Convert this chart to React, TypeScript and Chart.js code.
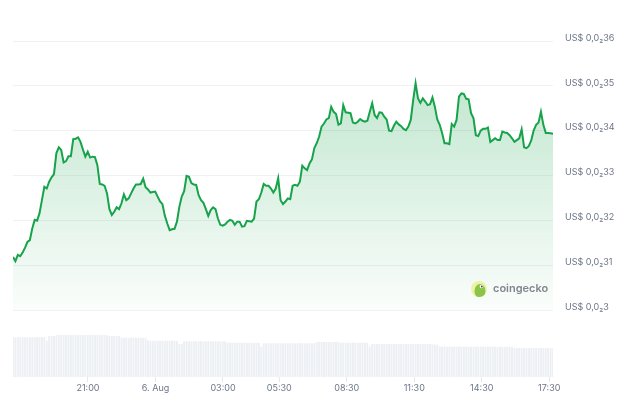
import React, { useEffect, useRef } from "react";
import { Chart, registerables } from "chart.js";

Chart.register(...registerables);

// Time window (hours since 5 Aug 00:00)
const START_HOUR = 17 + 40 / 60;
const END_HOUR = START_HOUR + 24;

const PRICES = [
  0.003118, 0.003109, 0.003123, 0.00312, 0.003128, 0.003139, 0.003152, 0.003156, 0.003182, 0.003201,
  0.003199, 0.003216, 0.003245, 0.003275, 0.003271, 0.003286, 0.003296, 0.003303, 0.00335, 0.003363,
  0.003357, 0.003329, 0.003332, 0.003343, 0.003343, 0.003381, 0.003382, 0.003385, 0.003375, 0.003358,
  0.003342, 0.003353, 0.00334, 0.003342, 0.003341, 0.003323, 0.003281, 0.00328, 0.003277, 0.00326,
  0.003225, 0.003212, 0.003219, 0.003229, 0.003225, 0.003238, 0.003258, 0.003245, 0.003249, 0.00326,
  0.003271, 0.00328, 0.00328, 0.003281, 0.003293, 0.003274, 0.003269, 0.003262, 0.003263, 0.003264,
  0.003253, 0.003242, 0.003236, 0.00321, 0.003193, 0.003178, 0.00318, 0.003181, 0.003197, 0.00323,
  0.003253, 0.003265, 0.003299, 0.003297, 0.003283, 0.00328, 0.003279, 0.003256, 0.003245, 0.003239,
  0.003225, 0.00321, 0.003223, 0.003229, 0.003225, 0.003204, 0.00319, 0.003188, 0.003191, 0.003197,
  0.003201, 0.003199, 0.00319, 0.003197, 0.003197, 0.003186, 0.003187, 0.003199, 0.003198, 0.003197,
  0.003204, 0.003242, 0.003247, 0.003262, 0.003281, 0.003277, 0.003277, 0.003271, 0.003262, 0.003271,
  0.003294, 0.003245, 0.003236, 0.003242, 0.003249, 0.003247, 0.003277, 0.003279, 0.003277, 0.003286,
  0.003322, 0.003316, 0.003312, 0.003327, 0.003336, 0.003361, 0.003372, 0.003387, 0.003409, 0.003416,
  0.003425, 0.003428, 0.003453, 0.003442, 0.003437, 0.003413, 0.003416, 0.003457, 0.003441, 0.00344,
  0.003439, 0.003418, 0.003416, 0.00342, 0.003426, 0.003422, 0.00342, 0.003422, 0.003442, 0.003461,
  0.003435, 0.003428, 0.003441, 0.00344, 0.003431, 0.003425, 0.0034, 0.003399, 0.003411, 0.00342,
  0.003414, 0.00341, 0.003404, 0.003401, 0.003409, 0.003424, 0.003468, 0.003506, 0.003472, 0.003462,
  0.003472, 0.003465, 0.003457, 0.003459, 0.003474, 0.003453, 0.003425, 0.003413, 0.003395, 0.003372,
  0.003372, 0.00337, 0.003415, 0.003409, 0.003424, 0.003476, 0.003483, 0.003482, 0.003471, 0.00347,
  0.003439, 0.003428, 0.00339, 0.003388, 0.0034, 0.003404, 0.003404, 0.003407, 0.003375, 0.003379,
  0.003383, 0.003379, 0.003379, 0.003398, 0.003396, 0.003395, 0.00339, 0.003383, 0.003375, 0.003379,
  0.003383, 0.003403, 0.003363, 0.003361, 0.003366, 0.003379, 0.003401, 0.003413, 0.003418, 0.003442,
  0.003413, 0.003395, 0.003395, 0.003394, 0.003393,
];

// 24h volume (thousand US$)
const VOLUMES = [
  397, 396, 398, 397, 397, 398, 396, 397, 398, 397,
  399, 400, 400, 399,
  362,
  409, 410, 411,
  419, 420, 421, 420, 420, 421, 420, 419, 420, 421, 420, 420, 419, 420, 421, 420, 420, 419, 420, 420, 419, 418,
  411, 410, 410, 409, 410,
  394, 393, 393, 392, 393, 394, 393, 392, 393, 392, 391,
  364, 363, 363, 362, 364, 363, 363, 362, 363, 362, 363, 362, 361,
  331, 330,
  357, 358, 357, 356, 357, 358, 357, 357, 356, 357, 358, 357, 356, 357, 357, 356, 357, 356,
  344, 343, 343, 342, 343, 344, 343, 342, 343, 343, 342, 343, 342, 341,
  303,
  337, 338, 337, 336, 337, 338, 337, 337, 336, 337, 338, 337, 336, 337, 337, 338, 337, 336, 337, 338, 337, 337,
  349, 350, 351, 350, 349, 350, 351, 350, 350, 349,
  343, 344, 343, 342, 343, 344, 343, 343, 342, 343, 344, 342,
  304,
  331, 330, 330, 329, 330, 331, 330, 330, 329, 330, 331, 330, 330, 329, 330, 331, 330, 329, 330, 330, 331, 330, 329, 330, 330,
  326, 325, 324,
  304, 303, 303, 302, 303, 304, 303, 303, 302, 303, 304, 303, 302, 303, 303, 304, 303, 302, 303, 303, 302, 303, 304, 303, 302, 303, 303, 302, 303, 302, 301,
  291, 290, 290, 289, 290, 291, 290, 290, 289, 290, 291, 290, 289, 290, 290, 289, 288,
];

const X_TICK_HOURS = [21, 24, 27, 29.5, 32.5, 35.5, 38.5, 41.5];
const X_TICK_LABELS = ["21:00", "6. Aug", "03:00", "05:30", "08:30", "11:30", "14:30", "17:30"];

const Y_TICK_VALUES = [0.003, 0.0031, 0.0032, 0.0033, 0.0034, 0.0035, 0.0036];
const Y_TICK_LABELS = [
  "US$ 0,0\u20823",
  "US$ 0,0\u208231",
  "US$ 0,0\u208232",
  "US$ 0,0\u208233",
  "US$ 0,0\u208234",
  "US$ 0,0\u208235",
  "US$ 0,0\u208236",
];

const PRICE_MIN = 0.00285056;
const PRICE_MAX = 0.00364684;
const VOLUME_AXIS_MAX = 3570;

const LINE_COLOR = "rgb(22,163,74)";
const LABEL_COLOR = "#6b7589";
const FONT_FAMILY = "Inter, 'Noto Sans', sans-serif";

const logoPlugin = {
  id: "cgLogo",
  afterDatasetsDraw(chart: any) {
    const { ctx, chartArea, scales } = chart;
    const cx = chartArea.right - 74;
    const cy = scales.y.getPixelForValue(Y_TICK_VALUES[0]) - 21;
    ctx.save();
    ctx.beginPath();
    ctx.arc(cx, cy, 8, 0, Math.PI * 2);
    ctx.fillStyle = "#eef3a3";
    ctx.fill();
    ctx.save();
    ctx.beginPath();
    ctx.arc(cx, cy, 8, 0, Math.PI * 2);
    ctx.clip();
    ctx.beginPath();
    ctx.ellipse(cx + 1, cy + 2, 5.5, 7, 0, 0, Math.PI * 2);
    ctx.fillStyle = "#8cc34a";
    ctx.fill();
    ctx.restore();
    ctx.beginPath();
    ctx.arc(cx + 2.5, cy - 2.5, 1.8, 0, Math.PI * 2);
    ctx.fillStyle = "#ffffff";
    ctx.fill();
    ctx.beginPath();
    ctx.arc(cx + 2.8, cy - 2.5, 0.9, 0, Math.PI * 2);
    ctx.fillStyle = "#3a4a2a";
    ctx.fill();
    ctx.font = `600 11px ${FONT_FAMILY}`;
    ctx.fillStyle = "#80868f";
    ctx.textBaseline = "middle";
    ctx.textAlign = "left";
    ctx.fillText("coingecko", cx + 14, cy);
    ctx.restore();
  },
};

export default function App() {
  const canvasRef = useRef<HTMLCanvasElement | null>(null);

  useEffect(() => {
    document.body.style.margin = "0";
    const canvas = canvasRef.current;
    if (!canvas) return;
    const step = (END_HOUR - START_HOUR) / (PRICES.length - 1);
    const priceData = PRICES.map((p, i) => ({ x: START_HOUR + i * step, y: p }));
    const volStep = (END_HOUR - START_HOUR) / (VOLUMES.length - 1);
    const volData = VOLUMES.map((v, i) => ({ x: START_HOUR + i * volStep, y: v }));

    const chart = new Chart(canvas, {
      type: "line",
      data: {
        datasets: [
          {
            type: "line",
            data: priceData,
            yAxisID: "y",
            borderColor: LINE_COLOR,
            borderWidth: 2,
            pointRadius: 0,
            tension: 0,
            order: 1,
            fill: { value: Y_TICK_VALUES[0] },
            backgroundColor: (ctx: any) => {
              const chart = ctx.chart;
              if (!chart.chartArea) return "rgba(22,163,74,0.15)";
              const y = chart.scales.y;
              const top = y.getPixelForValue(Y_TICK_VALUES[Y_TICK_VALUES.length - 1]);
              const bottom = y.getPixelForValue(Y_TICK_VALUES[0]);
              const g = chart.ctx.createLinearGradient(0, top, 0, bottom);
              g.addColorStop(0, "rgba(22,163,74,0.30)");
              g.addColorStop(1, "rgba(22,163,74,0.02)");
              return g;
            },
          } as any,
          {
            type: "bar",
            data: volData,
            yAxisID: "yv",
            backgroundColor: "#eceff3",
            barPercentage: 0.8,
            categoryPercentage: 1,
            order: 2,
          } as any,
        ],
      },
      options: {
        animation: false,
        responsive: false,
        layout: { padding: { left: 13, top: 20, right: 0, bottom: 0 } },
        plugins: { legend: { display: false }, tooltip: { enabled: false } },
        scales: {
          x: {
            type: "linear",
            min: START_HOUR,
            max: END_HOUR,
            offset: false,
            afterBuildTicks: (s: any) => {
              s.ticks = X_TICK_HOURS.map((v) => ({ value: v }));
            },
            afterFit: (s: any) => {
              s.height = 25;
            },
            grid: { drawOnChartArea: false, drawTicks: true, tickLength: 5, color: "#e4e7eb", offset: false },
            border: { display: false },
            ticks: {
              autoSkip: false,
              maxRotation: 0,
              padding: 1,
              color: LABEL_COLOR,
              font: { size: 9, family: FONT_FAMILY },
              callback: (_v: any, i: number) => X_TICK_LABELS[i],
            },
          },
          y: {
            type: "linear",
            position: "right",
            min: PRICE_MIN,
            max: PRICE_MAX,
            afterBuildTicks: (s: any) => {
              s.ticks = Y_TICK_VALUES.map((v) => ({ value: v }));
            },
            afterFit: (s: any) => {
              s.width = 69;
            },
            grid: { color: "#eff1f4", drawTicks: false },
            border: { display: false },
            ticks: {
              padding: 12,
              labelOffset: -3,
              color: LABEL_COLOR,
              font: { size: 9, family: FONT_FAMILY },
              callback: (_v: any, i: number) => Y_TICK_LABELS[i],
            },
          },
          yv: {
            type: "linear",
            display: false,
            min: 0,
            max: VOLUME_AXIS_MAX,
          },
        },
      },
      plugins: [logoPlugin],
    });
    return () => chart.destroy();
  }, []);

  return (
    <div style={{ width: 622, height: 402, position: "relative", background: "#fff" }}>
      <canvas ref={canvasRef} width={622} height={402} style={{ display: "block" }} />
    </div>
  );
}
